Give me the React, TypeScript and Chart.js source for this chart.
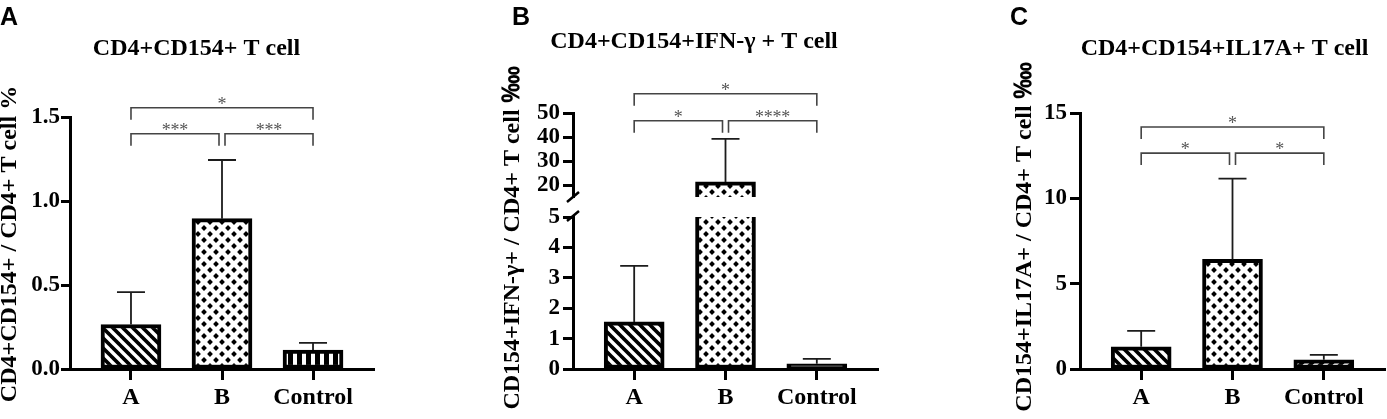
import React, { useEffect, useRef } from 'react';
import { Chart, registerables } from 'chart.js';

Chart.register(...registerables);

// ---------- data ----------
const categories = ['A', 'B', 'Control'];

// Panel A: CD4+CD154+ T cell (%)
const valuesA = [0.265, 0.895, 0.113];
const sdA = [0.193, 0.349, 0.042];
const ticksA = [0, 0.5, 1.0, 1.5];
const bracketsA: [number, number, string, number][] = [
  [0, 1, '***', 1.4],
  [1, 2, '***', 1.4],
  [0, 2, '*', 1.555],
];

// Panel B: CD4+CD154+IFN-γ+ T cell (‱), broken axis
const valuesB = [1.55, 21.3, 0.17];
const sdB = [1.84, 17.9, 0.16];
const ticksBLow = [0, 1, 2, 3, 4, 5];
const ticksBHigh = [20, 30, 40, 50];
const bracketsB: [number, number, string, number][] = [
  [0, 1, '*', 46.8],
  [1, 2, '****', 46.8],
  [0, 2, '*', 58.0],
];

// Panel C: CD4+CD154+IL17A+ T cell (‱)
const valuesC = [1.3, 6.42, 0.54];
const sdC = [0.93, 4.73, 0.29];
const ticksC = [0, 5, 10, 15];
const bracketsC: [number, number, string, number][] = [
  [0, 1, '*', 12.65],
  [1, 2, '*', 12.65],
  [0, 2, '*', 14.18],
];

const panelLetters = ['A', 'B', 'C'];
const panelTitles = ['CD4+CD154+ T cell', 'CD4+CD154+IFN-γ + T cell', 'CD4+CD154+IL17A+ T cell'];
const yAxisTitles = [
  'CD4+CD154+ / CD4+ T cell %',
  'CD154+IFN-γ+ / CD4+ T cell ‱',
  'CD154+IL17A+ / CD4+ T cell ‱',
];

// ---------- styles ----------
const SERIF = '"Liberation Serif", "Times New Roman", Times, serif';
const SANS = '"Liberation Sans", Arial, Helvetica, sans-serif';
const X_MARGIN = 0.67;
const CANVAS_H = 419;

function makePattern(kind: string): CanvasPattern {
  const c = document.createElement('canvas');
  const ctx = c.getContext('2d') as CanvasRenderingContext2D;
  if (kind === 'back' || kind === 'fwd') {
    const s = 10;
    c.width = s;
    c.height = s;
    ctx.fillStyle = '#000';
    ctx.fillRect(0, 0, s, s);
    ctx.strokeStyle = '#fff';
    ctx.lineWidth = 3.4;
    for (let k = -1; k <= 1; k++) {
      ctx.beginPath();
      if (kind === 'back') {
        ctx.moveTo(-1, k * s - 1);
        ctx.lineTo(s + 1, s + k * s + 1);
      } else {
        ctx.moveTo(-1, s + k * s + 1);
        ctx.lineTo(s + 1, k * s - 1);
      }
      ctx.stroke();
    }
  } else if (kind === 'diamond') {
    const w = 12;
    const h = 12;
    c.width = w;
    c.height = h;
    ctx.fillStyle = '#fff';
    ctx.fillRect(0, 0, w, h);
    ctx.fillStyle = '#000';
    const r = 2.9;
    const pts = [
      [0, 0], [w, 0], [0, h], [w, h], [w / 2, h / 2],
    ];
    for (const [px, py] of pts) {
      ctx.beginPath();
      ctx.moveTo(px, py - r);
      ctx.lineTo(px + r, py);
      ctx.lineTo(px, py + r);
      ctx.lineTo(px - r, py);
      ctx.closePath();
      ctx.fill();
    }
  } else if (kind === 'vstripe') {
    c.width = 9;
    c.height = 4;
    ctx.fillStyle = '#000';
    ctx.fillRect(0, 0, 9, 4);
    ctx.fillStyle = '#fff';
    ctx.fillRect(5, 0, 4, 4);
  } else {
    // dash
    c.width = 12;
    c.height = 6;
    ctx.fillStyle = '#000';
    ctx.fillRect(0, 0, 12, 6);
    ctx.fillStyle = '#fff';
    ctx.fillRect(3, 1, 6, 3);
  }
  return ctx.createPattern(c, 'repeat') as CanvasPattern;
}

interface PanelSpec {
  idx: number;
  left: number;
  width: number;
  values: number[];
  sds: number[];
  brackets: [number, number, string, number][];
  patterns: string[];
  axisWidth: number;
  padRight: number;
  padTop: number;
  tickLen: number;
  tickPad: number;
  letterX: number;
  titleX: number;
  titleY: number;
  yTitleX: number;
  yTitleY: number;
  broken: boolean;
  yMax: number;
  ticks: number[];
  decimals: number;
}

const panels: PanelSpec[] = [
  {
    idx: 0, left: 0, width: 460, values: valuesA, sds: sdA, brackets: bracketsA,
    patterns: ['back', 'diamond', 'vstripe'],
    axisWidth: 70, padRight: 86, padTop: 117, tickLen: 9, tickPad: 1,
    letterX: 0, titleX: 196.5, titleY: 55, yTitleX: 10, yTitleY: 244,
    broken: false, yMax: 1.5, ticks: ticksA, decimals: 1,
  },
  {
    idx: 1, left: 460, width: 460, values: valuesB, sds: sdB, brackets: bracketsB,
    patterns: ['back', 'diamond', 'dash'],
    axisWidth: 113, padRight: 42, padTop: 113, tickLen: 10, tickPad: 3,
    letterX: 512, titleX: 694, titleY: 48, yTitleX: 512.5, yTitleY: 238,
    broken: true, yMax: 5, ticks: ticksBLow, decimals: 0,
  },
  {
    idx: 2, left: 920, width: 467, values: valuesC, sds: sdC, brackets: bracketsC,
    patterns: ['back', 'diamond', 'fwd'],
    axisWidth: 160, padRight: 2, padTop: 113, tickLen: 10, tickPad: 3,
    letterX: 1010, titleX: 1224.5, titleY: 55, yTitleX: 1024.5, yTitleY: 237,
    broken: false, yMax: 15, ticks: ticksC, decimals: 0,
  },
];

function yScaleOptions(p: PanelSpec, min: number, max: number, ticks: number[], extra: any) {
  return {
    type: 'linear',
    position: 'left',
    min,
    max,
    afterBuildTicks: (s: any) => {
      s.ticks = ticks.map((v) => ({ value: v }));
    },
    afterFit: (s: any) => {
      s.width = p.axisWidth;
    },
    ticks: {
      autoSkip: false,
      color: '#000',
      padding: p.tickPad,
      font: { family: SERIF, size: 23, weight: 'bold' },
      callback: (v: any) => Number(v).toFixed(p.decimals),
    },
    grid: {
      display: true,
      drawOnChartArea: false,
      drawTicks: true,
      tickLength: p.tickLen,
      tickWidth: 3,
      tickColor: '#000',
    },
    border: { display: true, width: 3, color: '#000' },
    ...extra,
  };
}

function decoPlugin(p: PanelSpec) {
  const scaleFor = (chart: any, v: number) => {
    if (p.broken) return v > p.yMax ? chart.scales.yHigh : chart.scales.yLow;
    return chart.scales.y;
  };
  return {
    id: 'deco' + p.idx,
    afterDatasetsDraw(chart: any) {
      const ctx = chart.ctx as CanvasRenderingContext2D;
      const xs = chart.scales.x;
      ctx.save();
      ctx.strokeStyle = '#1c1c1c';
      ctx.lineWidth = 1.8;
      p.values.forEach((v, i) => {
        const top = v + p.sds[i];
        const x = xs.getPixelForValue(i);
        const y0 = scaleFor(chart, v).getPixelForValue(v);
        const y1 = scaleFor(chart, top).getPixelForValue(top);
        ctx.beginPath();
        ctx.moveTo(x, y0);
        ctx.lineTo(x, y1);
        ctx.moveTo(x - 14, y1);
        ctx.lineTo(x + 14, y1);
        ctx.stroke();
      });
      ctx.restore();
    },
    afterDraw(chart: any) {
      const ctx = chart.ctx as CanvasRenderingContext2D;
      const xs = chart.scales.x;
      const off = p.left;
      ctx.save();

      // significance brackets
      const bs = p.broken ? chart.scales.yHigh : chart.scales.y;
      ctx.strokeStyle = '#444';
      ctx.lineWidth = 1.6;
      ctx.fillStyle = '#555';
      ctx.font = `18px ${SERIF}`;
      ctx.textAlign = 'center';
      ctx.textBaseline = 'alphabetic';
      const m = ctx.measureText('*');
      const glyphMid = (m.actualBoundingBoxDescent - m.actualBoundingBoxAscent) / 2;
      for (const [f, t, label, level] of p.brackets) {
        let x1 = xs.getPixelForValue(f);
        let x2 = xs.getPixelForValue(t);
        if (t - f === 1) {
          if (t === 1) x2 -= 3;
          if (f === 1) x1 += 3;
        }
        const y = bs.getPixelForValue(level);
        ctx.beginPath();
        ctx.moveTo(x1, y + 12);
        ctx.lineTo(x1, y);
        ctx.lineTo(x2, y);
        ctx.lineTo(x2, y + 12);
        ctx.stroke();
        const n = label.length;
        const step = 8.8;
        const cx = (x1 + x2) / 2;
        const base = y - 7.5 - glyphMid;
        for (let k = 0; k < n; k++) {
          ctx.fillText('*', cx + (k - (n - 1) / 2) * step, base);
        }
      }

      // axis break marks
      if (p.broken) {
        const ax = chart.chartArea.left;
        const yb = chart.scales.yHigh.bottom;
        const yt = chart.scales.yLow.top;
        ctx.strokeStyle = '#000';
        ctx.lineWidth = 2.5;
        ctx.beginPath();
        ctx.moveTo(ax - 6, yb + 5);
        ctx.lineTo(ax + 6, yb - 5);
        ctx.moveTo(ax - 6, yt + 4);
        ctx.lineTo(ax + 6, yt - 6);
        ctx.stroke();
      }

      // panel letter
      ctx.fillStyle = '#000';
      ctx.font = `bold 25px ${SANS}`;
      ctx.textAlign = 'left';
      ctx.textBaseline = 'alphabetic';
      ctx.fillText(panelLetters[p.idx], p.letterX - off, 25);

      // title
      ctx.font = `bold 24px ${SERIF}`;
      ctx.textAlign = 'center';
      ctx.fillText(panelTitles[p.idx], p.titleX - off, p.titleY);

      // y axis title
      ctx.translate(p.yTitleX - off, p.yTitleY);
      ctx.rotate(-Math.PI / 2);
      ctx.textBaseline = 'middle';
      ctx.fillText(yAxisTitles[p.idx], 0, 0);
      ctx.restore();
    },
  };
}

function buildConfig(p: PanelSpec): any {
  const pats = p.patterns.map(makePattern);
  const points = p.values.map((v, i) => ({ x: i, y: v }));
  const barBase = {
    backgroundColor: pats,
    borderColor: '#000',
    borderWidth: 4,
    borderSkipped: false,
    grouped: false,
    barPercentage: 1,
    categoryPercentage: 1,
    maxBarThickness: 60,
  };
  const xScale = {
    type: 'linear',
    position: 'bottom',
    offset: false,
    min: -X_MARGIN,
    max: categories.length - 1 + X_MARGIN,
    afterBuildTicks: (s: any) => {
      s.ticks = categories.map((_, i) => ({ value: i }));
    },
    afterFit: (s: any) => {
      s.height = CANVAS_H - 369;
    },
    ticks: {
      autoSkip: false,
      maxRotation: 0,
      color: '#000',
      padding: 3,
      font: { family: SERIF, size: 24, weight: 'bold' },
      callback: (v: any) => categories[Math.round(Number(v))] ?? '',
    },
    grid: {
      display: true,
      offset: false,
      drawOnChartArea: false,
      drawTicks: true,
      tickLength: 11,
      tickWidth: 3,
      tickColor: '#000',
    },
    border: { display: true, width: 3, color: '#000' },
  };

  let scales: any;
  let datasets: any[];
  if (p.broken) {
    scales = {
      x: xScale,
      yLow: yScaleOptions(p, 0, 5, ticksBLow, { stack: 'brk', stackWeight: 152, weight: 1 }),
      yGap: {
        type: 'linear',
        position: 'left',
        min: 5,
        max: 15,
        display: false,
        stack: 'brk',
        stackWeight: 20,
        weight: 2,
        afterFit: (s: any) => {
          s.width = p.axisWidth;
        },
      },
      yHigh: yScaleOptions(p, 15, 50, ticksBHigh, { stack: 'brk', stackWeight: 84, weight: 3 }),
    };
    datasets = [
      { ...barBase, data: points, yAxisID: 'yLow', clip: 0 },
      { ...barBase, data: points, yAxisID: 'yHigh', clip: 0, borderSkipped: 'start' },
    ];
  } else {
    scales = {
      x: xScale,
      y: yScaleOptions(p, 0, p.yMax, p.ticks, {}),
    };
    datasets = [{ ...barBase, data: points }];
  }

  return {
    type: 'bar',
    data: { datasets },
    options: {
      responsive: false,
      animation: false,
      devicePixelRatio: 1,
      events: [],
      layout: { padding: { left: 0, right: p.padRight, top: p.padTop, bottom: 0 } },
      plugins: {
        legend: { display: false },
        tooltip: { enabled: false },
        title: { display: false },
      },
      scales,
    },
    plugins: [decoPlugin(p)],
  };
}

function PanelChart({ spec }: { spec: PanelSpec }) {
  const ref = useRef<HTMLCanvasElement>(null);
  useEffect(() => {
    if (!ref.current) return;
    const chart = new Chart(ref.current, buildConfig(spec));
    return () => chart.destroy();
  }, [spec]);
  return (
    <canvas
      ref={ref}
      width={spec.width}
      height={CANVAS_H}
      style={{ position: 'absolute', left: spec.left, top: 0, width: spec.width, height: CANVAS_H }}
    />
  );
}

export default function App() {
  return (
    <div
      style={{
        position: 'fixed',
        left: 0,
        top: 0,
        width: 1387,
        height: CANVAS_H,
        background: '#fff',
        overflow: 'hidden',
      }}
    >
      {panels.map((p) => (
        <PanelChart key={p.idx} spec={p} />
      ))}
    </div>
  );
}
